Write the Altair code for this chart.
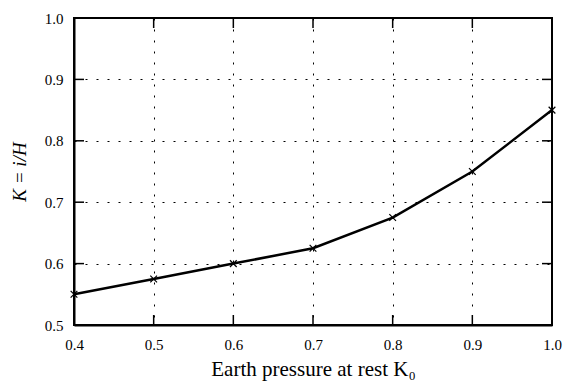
import altair as alt
import pandas as pd

# Data
k0 = [0.4, 0.5, 0.6, 0.7, 0.8, 0.9, 1.0]
k_ratio = [0.55, 0.575, 0.60, 0.625, 0.675, 0.75, 0.85]
x_ticks = [0.4, 0.5, 0.6, 0.7, 0.8, 0.9, 1.0]
y_ticks = [0.5, 0.6, 0.7, 0.8, 0.9, 1.0]

W, H = 478, 307
TL = 10  # inner tick length
FONT = "Liberation Serif"

df = pd.DataFrame({"k0": k0, "K": k_ratio})
xt = pd.DataFrame({"k0": x_ticks[1:-1]})
yt = pd.DataFrame({"K": y_ticks[1:-1]})

xs = alt.Scale(domain=[0.4, 1.0], nice=False, zero=False)
ys = alt.Scale(domain=[0.5, 1.0], nice=False, zero=False)

xaxis = alt.Axis(values=x_ticks, format=".1f", title="Earth pressure at rest K₀",
                 ticks=False, labelFlush=False, labelPadding=12, titlePadding=6,
                 titleFontSize=21)
yaxis = alt.Axis(values=y_ticks, format=".1f", title="K = i/H",
                 ticks=False, labelFlush=False, labelPadding=11, titlePadding=15,
                 titleFontStyle="italic", titleFontSize=19)

X = alt.X("k0:Q", scale=xs, axis=xaxis)
Y = alt.Y("K:Q", scale=ys, axis=yaxis)

line = alt.Chart(df).mark_line(color="black", strokeWidth=2.5).encode(x=X, y=Y)
pts = alt.Chart(df).mark_point(
    shape="M-1,-1L1,1M-1,1L1,-1", filled=False, color="black",
    strokeWidth=1.2, size=45, opacity=1
).encode(x=X, y=Y)

tick_style = dict(color="black", strokeWidth=1.5)
bottom = alt.Chart(xt).mark_rule(**tick_style).encode(
    x=X, y=alt.value(H), y2=alt.value(H - TL))
top = alt.Chart(xt).mark_rule(**tick_style).encode(
    x=X, y=alt.value(0), y2=alt.value(TL))
left = alt.Chart(yt).mark_rule(**tick_style).encode(
    y=Y, x=alt.value(0), x2=alt.value(TL))
right = alt.Chart(yt).mark_rule(**tick_style).encode(
    y=Y, x=alt.value(W), x2=alt.value(W - TL))

chart = alt.layer(line, pts, bottom, top, left, right).properties(
    width=W, height=H,
    autosize=alt.AutoSizeParams(type="none"),
    padding={"left": 74, "top": 18, "right": 16, "bottom": 63},
    background="white",
).configure_axis(
    labelFont=FONT, titleFont=FONT, labelFontSize=15, labelColor="black",
    titleColor="black", titleFontWeight="normal",
    domainColor="black", domainWidth=2,
    grid=True, gridColor="black", gridDash=[2, 9], gridWidth=1, gridOpacity=1,
).configure_view(stroke="black", strokeWidth=2)

chart.save("out.html", embed_options={"renderer": "svg", "actions": False})
